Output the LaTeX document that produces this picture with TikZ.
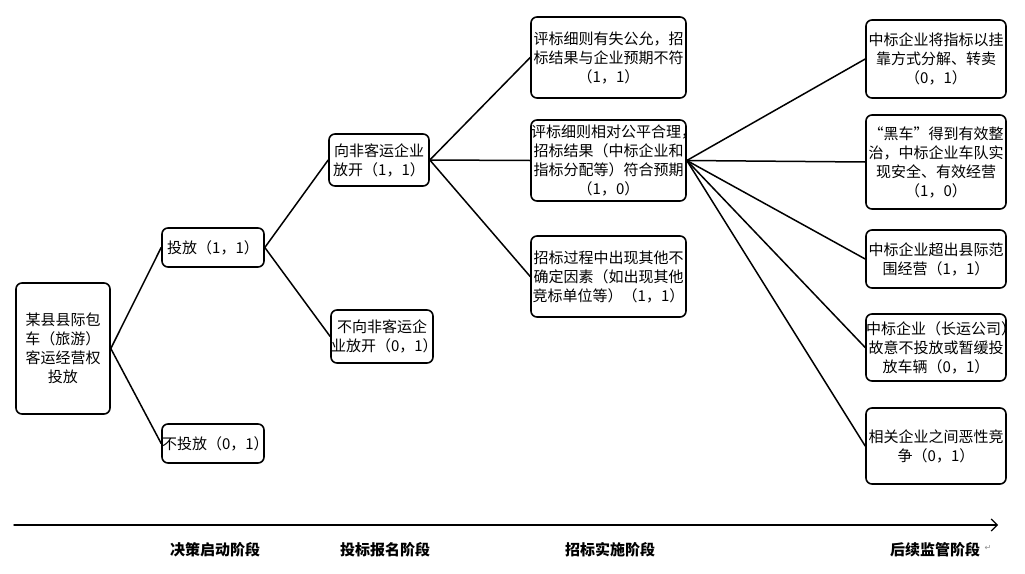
\documentclass[tikz,border=0pt]{standalone}
\usepackage{fontspec}
\setmainfont{Noto Sans CJK SC}
\newfontfamily\symfont{DejaVu Sans}
\usetikzlibrary{arrows.meta}
\begin{document}
\begin{tikzpicture}[x=1pt,y=-1pt,line cap=round]
  % Colors
  \colorlet{boxcolor}{black}
  \colorlet{markcolor}{black!45}

  % Styles
  \tikzstyle{box}=[draw=boxcolor,line width=1.6pt,rounded corners=6pt,inner sep=0pt,
    align=center,font=\fontsize{15}{19}\selectfont]
  \tikzstyle{branch}=[line width=1.5pt]
  \tikzstyle{stage text}=[font=\fontsize{15}{18}\selectfont\bfseries]

  \useasboundingbox (0,0) rectangle (1025,573);

  % Decision stage
  \node[box,text width=94,minimum height=131] (root) at (63,348.5)
    {某县县际包\\车（旅游）\\客运经营权\\投放};
  \node[box,text width=102,minimum height=39] (tf) at (213,247.5) {投放（1，1）};
  \node[box,text width=102,minimum height=39] (btf) at (213,443.5) {不投放（0，1）};

  % Application stage
  \node[box,text width=100,minimum height=52] (xfk) at (379,160)
    {向非客运企业\\放开（1，1）};
  \node[box,text width=102,minimum height=53] (bxfk) at (382,336.5)
    {不向非客运企\\业放开（0，1）};

  % Bidding stage
  \node[box,text width=155,minimum height=81] (p1) at (608.5,57.5)
    {评标细则有失公允，招\\标结果与企业预期不符\\（1，1）};
  \node[box,text width=155,minimum height=81] (p2) at (608.5,160.5)
    {评标细则相对公平合理，\\招标结果（中标企业和\\指标分配等）符合预期\\（1，0）};
  \node[box,text width=155,minimum height=81] (p3) at (608.5,276.5)
    {招标过程中出现其他不\\确定因素（如出现其他\\竞标单位等）（1，1）};

  % Supervision stage
  \node[box,text width=140,minimum height=78] (r1) at (936,59)
    {中标企业将指标以挂\\靠方式分解、转卖\\（0，1）};
  \node[box,text width=140,minimum height=94] (r2) at (936,162)
    {“黑车”得到有效整\\治，中标企业车队实\\现安全、有效经营\\（1，0）};
  \node[box,text width=140,minimum height=58] (r3) at (936,259)
    {中标企业超出县际范\\围经营（1，1）};
  \node[box,text width=140,minimum height=67] (r4) at (936,347.5)
    {中标企业（长运公司）\\故意不投放或暂缓投\\放车辆（0，1）};
  \node[box,text width=140,minimum height=76] (r5) at (936,446)
    {相关企业之间恶性竞\\争（0，1）};

  % Branches
  \draw[branch] (root.east) -- (tf.west);
  \draw[branch] (root.east) -- (btf.west);
  \draw[branch] (tf.east) -- (xfk.west);
  \draw[branch] (tf.east) -- (bxfk.west);
  \foreach \t in {p1,p2,p3}
    \draw[branch] (xfk.east) -- (\t.west);
  \foreach \t in {r1,r2,r3,r4,r5}
    \draw[branch] (p2.east) -- (\t.west);

  % Time axis
  \coordinate (axis start) at (14,525);
  \coordinate (axis end) at (998,525);
  \draw[line width=1.5pt,-{Straight Barb[length=6pt,width=12pt,line width=1.2pt]}]
    (axis start) -- (axis end);
  \node[stage text] (s1) at (215,550) {决策启动阶段};
  \node[stage text] (s2) at (385,550) {投标报名阶段};
  \node[stage text] (s3) at (610,550) {招标实施阶段};
  \node[stage text] (s4) at (935,550) {后续监管阶段};
  \node[markcolor,inner sep=0pt,anchor=west,font=\symfont\fontsize{8}{8}\selectfont]
    (mark) at ([xshift=1pt,yshift=2pt]s4.east) {↵};
\end{tikzpicture}
\end{document}
